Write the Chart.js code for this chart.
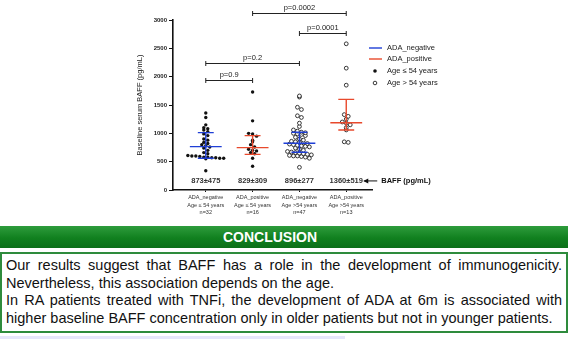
<!DOCTYPE html>
<html lang="en">
<head>
  <meta charset="UTF-8" />
  <title>BAFF and ADA</title>
  <style>
    * { margin: 0; padding: 0; box-sizing: border-box; }
    body {
      width: 573px;
      height: 340px;
      background: #fff;
      font-family: 'Liberation Sans', Arial, sans-serif;
      position: relative;
      overflow: hidden;
    }
    #chartBox {
      position: absolute;
      left: 0;
      top: 0;
      width: 573px;
      height: 222px;
    }
    .conclusion-bar {
      position: absolute;
      left: 0;
      top: 226px;
      width: 568px;
      height: 22px;
      background: linear-gradient(#2e9c3c, #11801f 55%, #0c6f19);
      color: #fff;
      font-weight: bold;
      font-size: 14px;
      line-height: 22px;
      text-align: center;
      padding-right: 28px;
    }
    .conclusion-text {
      position: absolute;
      left: 0;
      top: 252px;
      width: 568px;
      height: 81px;
      border: 2px solid #2e8b3c;
      padding: 3px 4px 0 4px;
      font-size: 14.5px;
      line-height: 17.5px;
      color: #111;
      text-align: justify;
    }
    .footer-line {
      position: absolute;
      left: 0;
      top: 336px;
      width: 345px;
      height: 3px;
      background: #e6e6fa;
    }
  </style>
</head>
<body>
  <div id="chartBox">
    <canvas id="baffChart" width="573" height="222"></canvas>
  </div>
  <div class="conclusion-bar">CONCLUSION</div>
  <div class="conclusion-text">
    <p>Our results suggest that BAFF has a role in the development of immunogenicity. Nevertheless, this association depends on the age.</p>
    <p>In RA patients treated with TNFi, the development of ADA at 6m is associated with higher baseline BAFF concentration only in older patients but not in younger patients.</p>
  </div>
  <div class="footer-line"></div>

  <script src="https://cdn.jsdelivr.net/npm/chart.js"></script>
  <script>
    // groups on the x axis
    const groupNames = ["ADA_negative", "ADA_positive", "ADA_negative", "ADA_positive"];
    const groupAges = ["Age \u2264 54 years", "Age \u2264 54 years", "Age >54 years", "Age >54 years"];
    const groupN = ["n=32", "n=16", "n=47", "n=13"];
    const meanSd = ["873\u00b1475", "829\u00b1309", "896\u00b1277", "1360\u00b1519"];

    // baseline BAFF (pg/mL) per patient
    const youngNeg = [1360, 1280, 1150, 1100, 1080, 1060, 1030, 990, 960, 900, 880, 840, 820, 800, 780, 760,
      740, 700, 660, 640, 610, 600, 600, 590, 580, 580, 570, 570, 560, 560, 550, 340];
    const youngPos = [1730, 1220, 1000, 990, 950, 880, 850, 800, 760, 720, 700, 690, 660, 640, 560, 420];
    const oldNeg = [1660, 1640, 1460, 1420, 1310, 1280, 1180, 1120, 1060, 1040, 1020, 1010, 1000, 990, 980, 960,
      930, 900, 880, 860, 850, 840, 830, 820, 810, 800, 790, 780, 770, 760, 740, 720, 700, 680, 670, 660,
      650, 640, 630, 620, 610, 600, 600, 590, 580, 560, 400];
    const oldPos = [2580, 2150, 1850, 1330, 1300, 1250, 1200, 1180, 1150, 1100, 1060, 850, 840];

    // median and interquartile range bars
    const medians = [765, 747, 824, 1188];
    const q1 = [559, 629, 665, 1059];
    const q3 = [1012, 959, 1018, 1600];

    // significance brackets
    const pFrom = [1, 1, 2, 3];
    const pTo = [2, 3, 4, 4];
    const pLevel = [1941, 2236, 3123, 2776];
    const pText = ["p=0.9", "p=0.2", "p=0.0002", "p=0.0001"];

    const yTicks = [0, 500, 1000, 1500, 2000, 2500, 3000];

    const BLUE = "#1f3fd6";
    const RED = "#e8492c";

    // simple beeswarm: values in the same row are spread sideways
    function swarm(values, center) {
      const rows = {};
      values.forEach(v => {
        const key = Math.round(v / 65);
        (rows[key] = rows[key] || []).push(v);
      });
      const pts = [];
      Object.values(rows).forEach(row => {
        row.forEach((v, j) => {
          pts.push({ x: center + (j - (row.length - 1) / 2) * 0.085, y: v });
        });
      });
      return pts;
    }

    const allGroups = [youngNeg, youngPos, oldNeg, oldPos];

    const datasets = allGroups.map((vals, i) => ({
      data: swarm(vals, i + 1),
      pointRadius: i < 2 ? 1.7 : 1.9,
      pointBackgroundColor: i < 2 ? "#111" : "#fff",
      pointBorderColor: "#222",
      pointBorderWidth: i < 2 ? 0 : 0.9,
      showLine: false
    }));

    const overlay = {
      id: "overlay",
      afterDatasetsDraw(chart) {
        const c = chart.ctx;
        const x = chart.scales.x, y = chart.scales.y;
        c.save();
        c.lineWidth = 1.4;
        medians.forEach((m, i) => {
          const g = i + 1;
          c.strokeStyle = i % 2 === 0 ? BLUE : RED;
          c.beginPath();
          c.moveTo(x.getPixelForValue(g - 0.34), y.getPixelForValue(m));
          c.lineTo(x.getPixelForValue(g + 0.34), y.getPixelForValue(m));
          c.moveTo(x.getPixelForValue(g), y.getPixelForValue(q1[i]));
          c.lineTo(x.getPixelForValue(g), y.getPixelForValue(q3[i]));
          [q1[i], q3[i]].forEach(q => {
            c.moveTo(x.getPixelForValue(g - 0.17), y.getPixelForValue(q));
            c.lineTo(x.getPixelForValue(g + 0.17), y.getPixelForValue(q));
          });
          c.stroke();
        });
        c.restore();
      },
      afterDraw(chart) {
        const c = chart.ctx;
        const x = chart.scales.x, y = chart.scales.y;
        c.save();
        // p-value brackets
        c.strokeStyle = "#222";
        c.fillStyle = "#222";
        c.lineWidth = 1;
        c.font = "7.5px 'Liberation Sans', Arial, sans-serif";
        c.textAlign = "center";
        c.textBaseline = "bottom";
        pText.forEach((t, i) => {
          const x1 = x.getPixelForValue(pFrom[i]);
          const x2 = x.getPixelForValue(pTo[i]);
          const py = Math.round(y.getPixelForValue(pLevel[i])) + 0.5;
          c.beginPath();
          c.moveTo(x1, py - 2.5); c.lineTo(x1, py + 2.5);
          c.moveTo(x1, py); c.lineTo(x2, py);
          c.moveTo(x2, py - 2.5); c.lineTo(x2, py + 2.5);
          c.stroke();
          c.fillText(t, (x1 + x2) / 2, py - 2);
        });

        // mean +- SD texts
        c.fillStyle = "#333";
        c.font = "bold 7.5px 'Liberation Sans', Arial, sans-serif";
        c.textBaseline = "middle";
        meanSd.forEach((t, i) => {
          c.fillText(t, x.getPixelForValue(i + 1), y.getPixelForValue(160));
        });
        const ay = y.getPixelForValue(160);
        const ax = x.getPixelForValue(4) + 18;
        c.strokeStyle = "#111";
        c.lineWidth = 1;
        c.beginPath();
        c.moveTo(ax, ay); c.lineTo(ax + 13, ay);
        c.stroke();
        c.beginPath();
        c.moveTo(ax - 1, ay); c.lineTo(ax + 4, ay - 2.5); c.lineTo(ax + 4, ay + 2.5); c.closePath();
        c.fillStyle = "#111";
        c.fill();
        c.textAlign = "left";
        c.font = "bold 7.5px 'Liberation Sans', Arial, sans-serif";
        c.fillText("BAFF (pg/mL)", ax + 17, ay);

        // legend
        const lx = 369;
        c.font = "7.5px 'Liberation Sans', Arial, sans-serif";
        c.fillStyle = "#222";
        c.lineWidth = 1.4;
        [[BLUE, "ADA_negative", 48], [RED, "ADA_positive", 59]].forEach(([col, txt, ly]) => {
          c.strokeStyle = col;
          c.beginPath(); c.moveTo(lx, ly); c.lineTo(lx + 13, ly); c.stroke();
          c.fillText(txt, lx + 18, ly);
        });
        c.beginPath(); c.arc(lx + 6, 71, 1.8, 0, Math.PI * 2); c.fillStyle = "#111"; c.fill();
        c.fillStyle = "#222";
        c.fillText("Age \u2264 54 years", lx + 18, 71);
        c.beginPath(); c.arc(lx + 6, 83, 1.8, 0, Math.PI * 2);
        c.lineWidth = 0.9; c.strokeStyle = "#222"; c.stroke();
        c.fillText("Age > 54 years", lx + 18, 83);
        c.restore();
      }
    };

    Chart.defaults.font.family = "'Liberation Sans', Arial, sans-serif";

    new Chart(document.getElementById("baffChart"), {
      type: "scatter",
      data: { datasets: datasets },
      options: {
        responsive: false,
        animation: false,
        devicePixelRatio: 1,
        layout: { padding: { left: 131, right: 201, top: 20, bottom: 0 } },
        plugins: { legend: { display: false }, tooltip: { enabled: false } },
        scales: {
          x: {
            type: "linear",
            min: 0.3,
            max: 4.55,
            afterBuildTicks: s => { s.ticks = [1, 2, 3, 4].map(v => ({ value: v })); },
            afterFit: s => { s.height = 32; },
            grid: { drawOnChartArea: false, drawTicks: true, tickLength: 2, color: "#111" },
            border: { color: "#111", width: 1.6 },
            ticks: {
              autoSkip: false,
              maxRotation: 0,
              padding: 2,
              color: "#333",
              font: { size: 5.5, lineHeight: 1.35 },
              callback: (v) => [groupNames[v - 1], groupAges[v - 1], groupN[v - 1]]
            }
          },
          y: {
            min: 0,
            max: 3000,
            afterBuildTicks: s => { s.ticks = yTicks.map(v => ({ value: v })); },
            afterFit: s => { s.width = 42; },
            grid: { drawOnChartArea: false, drawTicks: true, tickLength: 4, color: "#111" },
            border: { color: "#111", width: 1.6 },
            ticks: {
              padding: 2,
              color: "#222",
              font: { size: 6, weight: "bold" },
              callback: v => String(v)
            },
            title: {
              display: true,
              text: "Baseline serum BAFF (pg/mL)",
              color: "#222",
              font: { size: 7.5 }
            }
          }
        }
      },
      plugins: [overlay]
    });
  </script>
</body>
</html>
